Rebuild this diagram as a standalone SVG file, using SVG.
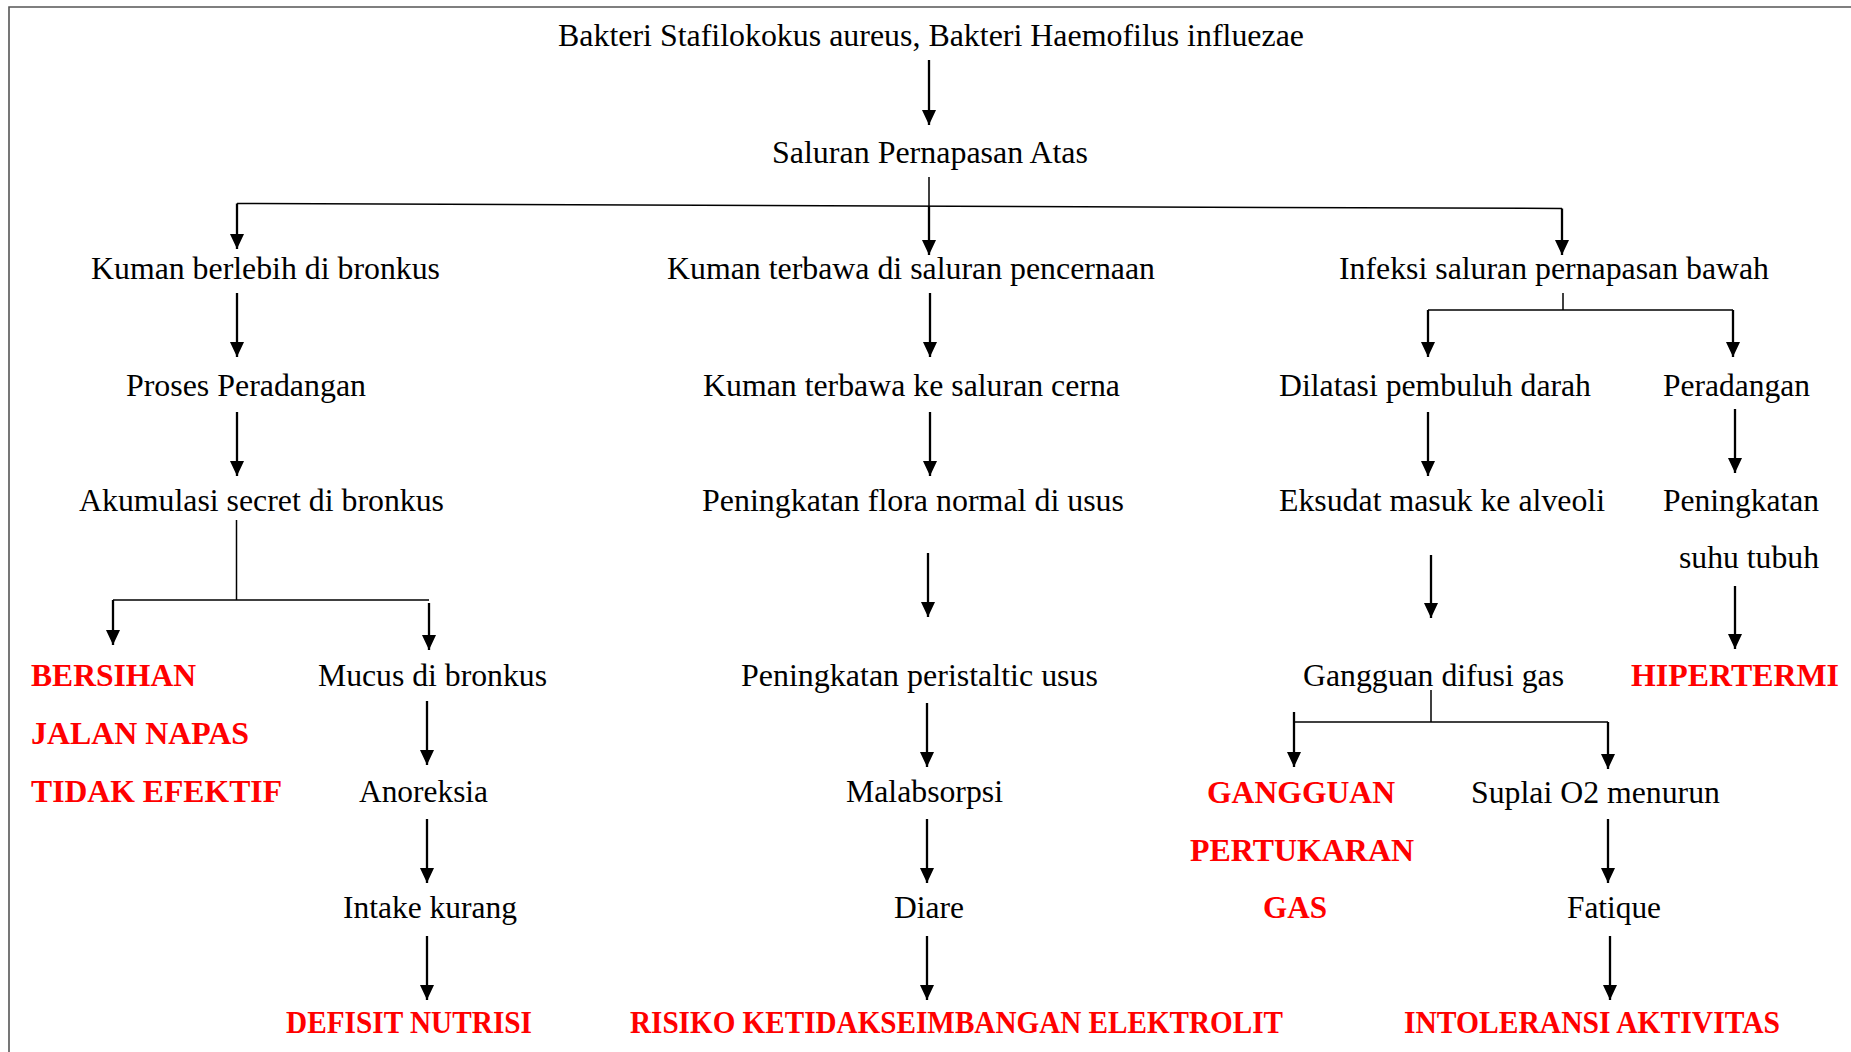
<svg xmlns="http://www.w3.org/2000/svg" width="1851" height="1052" viewBox="0 0 1851 1052">
<defs>
<marker id="ah" markerUnits="userSpaceOnUse" markerWidth="16" markerHeight="15" refX="15" refY="7" orient="auto">
<path d="M0,0 L15,7 L0,14 Z" fill="#000"/>
</marker>
<style>
.t{font-family:"Liberation Serif","Times New Roman",serif;font-size:31.5px;fill:#000}
.r{font-family:"Liberation Serif","Times New Roman",serif;font-size:31.5px;font-weight:bold;fill:#ff0000}
.a{stroke:#000;stroke-width:2.3;fill:none;marker-end:url(#ah)}
.l{stroke:#000;stroke-width:1.5;fill:none}
</style>
</defs>
<rect width="1851" height="1052" fill="#fff"/>
<path d="M9,1052 V7 H1851" fill="none" stroke="#555" stroke-width="1.6"/>

<g id="connectors">
<line class="a" x1="929" y1="60" x2="929" y2="125"/>
<line class="l" x1="929" y1="177" x2="929" y2="206"/>
<line class="l" x1="237" y1="203.5" x2="1562" y2="208.5"/>
<line class="a" x1="237" y1="203.5" x2="237" y2="249"/>
<line class="a" x1="929" y1="206" x2="929" y2="255"/>
<line class="a" x1="1562" y1="208.5" x2="1562" y2="255"/>

<line class="a" x1="237" y1="293" x2="237" y2="357"/>
<line class="a" x1="930" y1="293" x2="930" y2="357"/>
<line class="l" x1="1563" y1="293" x2="1563" y2="310"/>
<line class="l" x1="1428" y1="310" x2="1733" y2="310"/>
<line class="a" x1="1428" y1="310" x2="1428" y2="357"/>
<line class="a" x1="1733" y1="310" x2="1733" y2="357"/>

<line class="a" x1="237" y1="412" x2="237" y2="476"/>
<line class="a" x1="930" y1="412" x2="930" y2="476"/>
<line class="a" x1="1428" y1="412" x2="1428" y2="476"/>
<line class="a" x1="1735" y1="409" x2="1735" y2="473"/>

<line class="l" x1="236.5" y1="520" x2="236.5" y2="600"/>
<line class="l" x1="113" y1="600" x2="429" y2="600"/>
<line class="a" x1="113" y1="600" x2="113" y2="645"/>
<line class="a" x1="429" y1="603" x2="429" y2="650"/>
<line class="a" x1="928" y1="553" x2="928" y2="617"/>
<line class="a" x1="1431" y1="555" x2="1431" y2="618"/>
<line class="a" x1="1735" y1="586" x2="1735" y2="649"/>

<line class="a" x1="427" y1="701" x2="427" y2="765"/>
<line class="a" x1="927" y1="703" x2="927" y2="767"/>
<line class="l" x1="1431" y1="690" x2="1431" y2="722"/>
<line class="l" x1="1294" y1="722" x2="1608" y2="722"/>
<line class="a" x1="1294" y1="712" x2="1294" y2="767"/>
<line class="a" x1="1608" y1="722" x2="1608" y2="769"/>

<line class="a" x1="427" y1="819" x2="427" y2="883"/>
<line class="a" x1="927" y1="819" x2="927" y2="883"/>
<line class="a" x1="1608" y1="819" x2="1608" y2="883"/>

<line class="a" x1="427" y1="936" x2="427" y2="1000"/>
<line class="a" x1="927" y1="936" x2="927" y2="1000"/>
<line class="a" x1="1610" y1="936" x2="1610" y2="1000"/>
</g>

<g transform="translate(0,1.2)">
<g id="n-bakteri"><text class="t" x="558" y="45" textLength="746" lengthAdjust="spacingAndGlyphs">Bakteri Stafilokokus aureus, Bakteri Haemofilus influezae</text></g>
<g id="n-saluran-atas"><text class="t" x="772" y="162" textLength="316" lengthAdjust="spacingAndGlyphs">Saluran Pernapasan Atas</text></g>
<g id="n-kuman-berlebih"><text class="t" x="91" y="278" textLength="349" lengthAdjust="spacingAndGlyphs">Kuman berlebih di bronkus</text></g>
<g id="n-kuman-terbawa"><text class="t" x="667" y="278" textLength="488" lengthAdjust="spacingAndGlyphs">Kuman terbawa di saluran pencernaan</text></g>
<g id="n-infeksi"><text class="t" x="1339" y="278" textLength="430" lengthAdjust="spacingAndGlyphs">Infeksi saluran pernapasan bawah</text></g>
<g id="n-proses"><text class="t" x="126" y="395" textLength="240" lengthAdjust="spacingAndGlyphs">Proses Peradangan</text></g>
<g id="n-cerna"><text class="t" x="703" y="395" textLength="417" lengthAdjust="spacingAndGlyphs">Kuman terbawa ke saluran cerna</text></g>
<g id="n-dilatasi"><text class="t" x="1279" y="395" textLength="312" lengthAdjust="spacingAndGlyphs">Dilatasi pembuluh darah</text></g>
<g id="n-peradangan"><text class="t" x="1663" y="395" textLength="147" lengthAdjust="spacingAndGlyphs">Peradangan</text></g>
<g id="n-akumulasi"><text class="t" x="79" y="510" textLength="365" lengthAdjust="spacingAndGlyphs">Akumulasi secret di bronkus</text></g>
<g id="n-flora"><text class="t" x="702" y="510" textLength="422" lengthAdjust="spacingAndGlyphs">Peningkatan flora normal di usus</text></g>
<g id="n-eksudat"><text class="t" x="1279" y="510" textLength="326" lengthAdjust="spacingAndGlyphs">Eksudat masuk ke alveoli</text></g>
<g id="n-suhu"><text class="t" x="1663" y="510" textLength="156" lengthAdjust="spacingAndGlyphs">Peningkatan</text><text class="t" x="1679" y="567" textLength="140" lengthAdjust="spacingAndGlyphs">suhu tubuh</text></g>
<g id="n-bersihan"><text class="r" x="31" y="685" textLength="165" lengthAdjust="spacingAndGlyphs">BERSIHAN</text><text class="r" x="31" y="743" textLength="218" lengthAdjust="spacingAndGlyphs">JALAN NAPAS</text><text class="r" x="31" y="801" textLength="251" lengthAdjust="spacingAndGlyphs">TIDAK EFEKTIF</text></g>
<g id="n-mucus"><text class="t" x="318" y="685" textLength="229" lengthAdjust="spacingAndGlyphs">Mucus di bronkus</text></g>
<g id="n-peristaltic"><text class="t" x="741" y="685" textLength="357" lengthAdjust="spacingAndGlyphs">Peningkatan peristaltic usus</text></g>
<g id="n-difusi"><text class="t" x="1303" y="685" textLength="261" lengthAdjust="spacingAndGlyphs">Gangguan difusi gas</text></g>
<g id="n-hipertermi"><text class="r" x="1631" y="685" textLength="208" lengthAdjust="spacingAndGlyphs">HIPERTERMI</text></g>
<g id="n-anoreksia"><text class="t" x="359" y="801" textLength="129" lengthAdjust="spacingAndGlyphs">Anoreksia</text></g>
<g id="n-malabsorpsi"><text class="t" x="846" y="801" textLength="157" lengthAdjust="spacingAndGlyphs">Malabsorpsi</text></g>
<g id="n-gangguan-gas"><text class="r" x="1207" y="802" textLength="188" lengthAdjust="spacingAndGlyphs">GANGGUAN</text><text class="r" x="1190" y="860" textLength="224" lengthAdjust="spacingAndGlyphs">PERTUKARAN</text><text class="r" x="1263" y="917" textLength="64" lengthAdjust="spacingAndGlyphs">GAS</text></g>
<g id="n-suplai"><text class="t" x="1471" y="802" textLength="249" lengthAdjust="spacingAndGlyphs">Suplai O2 menurun</text></g>
<g id="n-intake"><text class="t" x="343" y="917" textLength="174" lengthAdjust="spacingAndGlyphs">Intake kurang</text></g>
<g id="n-diare"><text class="t" x="894" y="917" textLength="70" lengthAdjust="spacingAndGlyphs">Diare</text></g>
<g id="n-fatique"><text class="t" x="1567" y="917" textLength="94" lengthAdjust="spacingAndGlyphs">Fatique</text></g>
<g id="n-defisit"><text class="r" x="286" y="1032" textLength="246" lengthAdjust="spacingAndGlyphs">DEFISIT NUTRISI</text></g>
<g id="n-risiko"><text class="r" x="630" y="1032" textLength="653" lengthAdjust="spacingAndGlyphs">RISIKO KETIDAKSEIMBANGAN ELEKTROLIT</text></g>
<g id="n-intoleransi"><text class="r" x="1404" y="1032" textLength="376" lengthAdjust="spacingAndGlyphs">INTOLERANSI AKTIVITAS</text></g>
</g>
</svg>
